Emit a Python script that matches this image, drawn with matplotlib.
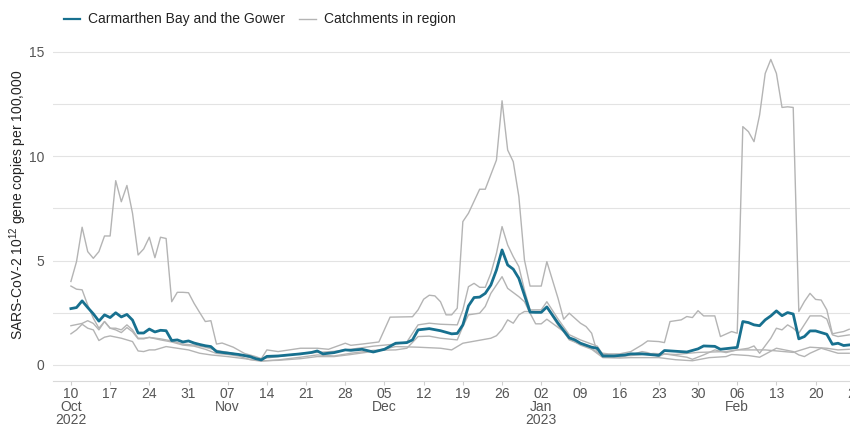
import matplotlib
matplotlib.use("Agg")
from matplotlib import pyplot as plt
from matplotlib.lines import Line2D
import pandas as pd

plt.rcParams['font.family'] = ['Liberation Sans', 'DejaVu Sans']
plt.rcParams['mathtext.fontset'] = 'custom'
plt.rcParams['mathtext.rm'] = 'Liberation Sans'

start = pd.Timestamp("2022-10-10")

# days after 10 Oct 2022 (10^12 gene copies per 100,000)
bay_days = [0, 1, 2, 3, 4, 5, 6, 7, 8, 9, 10, 11, 12, 13, 14, 15, 16, 17, 18, 19, 20, 21, 22, 23, 24, 25,
            26, 27, 28, 30, 32, 33, 34, 35, 37, 41, 43, 44, 45, 47, 49, 50, 52, 54, 56, 58, 60, 61, 62, 64,
            66, 68, 69, 70, 71, 72, 73, 74, 75, 76, 77, 78, 79, 80, 82, 83, 84, 85, 87, 89, 90, 91, 93, 94,
            95, 97, 99, 100, 102, 105, 106, 110, 112, 113, 115, 116, 119, 120, 121, 122, 123, 124, 125, 126,
            127, 128, 129, 130, 131, 132, 133, 135, 136, 137, 138, 139]
bay_vals = [2.70, 2.75, 3.07, 2.75, 2.45, 2.10, 2.40, 2.27, 2.50, 2.30, 2.42, 2.15, 1.53, 1.53, 1.72, 1.58,
            1.66, 1.64, 1.17, 1.20, 1.10, 1.15, 1.05, 0.98, 0.92, 0.88, 0.64, 0.60, 0.57, 0.50, 0.40, 0.30,
            0.24, 0.41, 0.43, 0.53, 0.60, 0.67, 0.53, 0.59, 0.72, 0.70, 0.75, 0.62, 0.75, 1.04, 1.07, 1.20,
            1.68, 1.74, 1.64, 1.49, 1.51, 1.92, 2.83, 3.23, 3.25, 3.43, 3.83, 4.55, 5.51, 4.79, 4.59, 4.15,
            2.53, 2.52, 2.52, 2.78, 2.00, 1.30, 1.20, 1.04, 0.85, 0.80, 0.43, 0.43, 0.48, 0.53, 0.53, 0.46,
            0.69, 0.62, 0.77, 0.91, 0.89, 0.75, 0.84, 2.08, 2.03, 1.92, 1.88, 2.16, 2.35, 2.59, 2.36, 2.51,
            2.44, 1.25, 1.36, 1.63, 1.63, 1.47, 0.99, 1.04, 0.93, 0.96]

a_days = [0, 1, 2, 3, 4, 5, 6, 7, 8, 9, 10, 11, 12, 13, 14, 15, 16, 17, 18, 19, 20, 21, 22, 23, 24, 25, 26,
          27, 29, 31, 33, 34, 35, 37, 41, 44, 46, 49, 50, 52, 55, 57, 61, 62, 63, 64, 65, 66, 67, 68, 69, 70,
          71, 73, 74, 76, 77, 78, 79, 80, 81, 82, 84, 85, 86, 87, 88, 89, 91, 92, 93, 94, 96, 98, 100, 102,
          103, 105, 106, 107, 109, 110, 111, 112, 113, 115, 116, 118, 119, 120, 121, 122, 123, 124, 125,
          126, 127, 128, 129, 130, 131, 132, 133, 134, 135, 136, 137, 138, 139]
a_vals = [4.0, 4.95, 6.6, 5.43, 5.11, 5.43, 6.18, 6.18, 8.83, 7.82, 8.6, 7.27, 5.27, 5.56, 6.12, 5.14, 6.12,
          6.06, 3.03, 3.48, 3.48, 3.46, 2.95, 2.51, 2.08, 2.12, 1.0, 1.05, 0.85, 0.55, 0.4, 0.3, 0.72, 0.64,
          0.8, 0.8, 0.75, 1.04, 0.94, 1.0, 1.1, 2.29, 2.31, 2.64, 3.15, 3.34, 3.31, 3.03, 2.4, 2.4, 2.72,
          6.87, 7.27, 8.42, 8.42, 9.82, 12.66, 10.3, 9.74, 8.07, 5.03, 3.78, 3.78, 4.95, 4.07, 3.19, 2.19,
          2.48, 2.0, 1.84, 1.52, 0.59, 0.53, 0.53, 0.64, 0.96, 1.15, 1.12, 1.07, 2.08, 2.16, 2.32, 2.27, 2.6,
          2.35, 2.35, 1.36, 1.6, 1.52, 11.42, 11.18, 10.7, 11.98, 13.97, 14.64, 13.97, 12.34, 12.37, 12.34,
          2.56, 3.04, 3.43, 3.14, 3.11, 2.64, 1.49, 1.55, 1.6, 1.71]

b_days = [0, 1, 2, 3, 4, 5, 6, 7, 8, 9, 10, 11, 12, 13, 14, 16, 18, 20, 22, 24, 26, 28, 30, 32, 34, 37, 41,
          44, 47, 50, 54, 58, 60, 62, 64, 66, 69, 70, 71, 72, 73, 74, 75, 76, 77, 78, 79, 80, 81, 82, 84, 85,
          87, 89, 91, 93, 94, 95, 98, 100, 104, 108, 112, 117, 119, 121, 122, 123, 125, 126, 127, 128, 129,
          130, 132, 134, 135, 136, 137, 139]
b_vals = [3.78, 3.63, 3.6, 2.87, 2.24, 1.76, 2.08, 1.76, 1.68, 1.55, 1.79, 1.59, 1.25, 1.25, 1.32, 1.25,
          1.15, 1.0, 0.95, 0.85, 0.7, 0.6, 0.5, 0.35, 0.3, 0.4, 0.55, 0.6, 0.65, 0.75, 0.9, 1.0, 1.1, 1.92,
          2.0, 1.95, 1.92, 2.64, 3.75, 3.91, 3.72, 3.72, 4.39, 5.35, 6.63, 5.75, 5.19, 4.71, 3.59, 2.64, 2.64,
          3.03, 2.2, 1.45, 1.2, 1.0, 0.9, 0.5, 0.45, 0.45, 0.55, 0.5, 0.6, 0.64, 0.72, 0.8, 0.91, 0.56, 1.28,
          1.76, 1.68, 1.92, 1.76, 1.52, 2.35, 2.35, 2.2, 1.44, 1.36, 1.44]

c_days = [0, 2, 3, 4, 5, 6, 7, 8, 9, 10, 11, 12, 13, 14, 16, 18, 20, 22, 24, 26, 28, 30, 32, 34, 37, 41, 44,
          47, 50, 54, 58, 60, 62, 64, 66, 69, 70, 71, 73, 74, 75, 77, 78, 80, 81, 82, 83, 84, 85, 88, 89, 91,
          93, 95, 98, 100, 102, 103, 105, 106, 110, 111, 113, 115, 117, 119, 120, 124, 129, 132, 135, 137, 139]
c_vals = [1.88, 1.99, 2.12, 1.99, 1.68, 2.08, 1.76, 1.76, 1.68, 1.92, 1.68, 1.28, 1.28, 1.32, 1.2, 1.1,
          0.95, 0.9, 0.75, 0.55, 0.5, 0.42, 0.25, 0.18, 0.24, 0.37, 0.48, 0.43, 0.56, 0.7, 0.72, 0.8, 1.36,
          1.38, 1.28, 1.2, 1.84, 2.4, 2.48, 2.8, 3.43, 4.23, 3.67, 3.27, 3.03, 2.48, 1.97, 1.97, 2.19, 1.6,
          1.2, 1.0, 0.8, 0.4, 0.37, 0.48, 0.64, 0.59, 0.4, 0.53, 0.37, 0.27, 0.48, 0.72, 0.59, 0.72, 0.72,
          0.72, 0.6, 0.85, 0.8, 0.72, 0.75]

d_days = [0, 1, 2, 3, 4, 5, 6, 7, 9, 11, 12, 13, 14, 15, 17, 19, 21, 23, 25, 28, 31, 34, 37, 41, 44, 47, 50,
          54, 58, 62, 66, 68, 70, 75, 76, 77, 78, 79, 80, 81, 84, 85, 87, 89, 91, 93, 95, 98, 100, 105, 108,
          111, 114, 117, 118, 121, 123, 126, 129, 130, 131, 132, 134, 135, 137, 139]
d_vals = [1.49, 1.68, 1.95, 1.76, 1.68, 1.17, 1.33, 1.39, 1.28, 1.12, 0.67, 0.64, 0.72, 0.72, 0.88, 0.8,
          0.72, 0.56, 0.48, 0.4, 0.3, 0.2, 0.22, 0.3, 0.4, 0.4, 0.5, 0.65, 0.88, 0.85, 0.8, 0.72, 1.04, 1.28,
          1.4, 1.7, 2.16, 2.0, 2.4, 2.56, 2.56, 2.75, 1.9, 1.25, 0.95, 0.75, 0.35, 0.33, 0.35, 0.35, 0.25,
          0.2, 0.35, 0.4, 0.5, 0.45, 0.37, 0.8, 0.64, 0.48, 0.4, 0.56, 0.8, 0.72, 0.56, 0.56]

tick_labels = ["10\nOct\n2022", "17", "24", "31", "07\nNov", "14", "21", "28", "05\nDec", "12", "19", "26",
               "02\nJan\n2023", "09", "16", "23", "30", "06\nFeb", "13", "20", "27"]

teal = "#17708f"
grey = "#b4b4b4"
text_col = "#555555"


def to_dates(days):
    return start + pd.to_timedelta(days, unit="D")


fig = plt.figure(figsize=(8.5, 4.26), dpi=100)
# axes run a little past the right edge of the figure, as in the original
ax = fig.add_axes([53 / 850, 45 / 426, (866 - 53) / 850, (381 - 41.5) / 426])

for days, vals in [(a_days, a_vals), (b_days, b_vals), (c_days, c_vals), (d_days, d_vals)]:
    ax.plot(to_dates(days), vals, color=grey, lw=1.0, zorder=2)
ax.plot(to_dates(bay_days), bay_vals, color=teal, lw=2.0, zorder=3)

ax.set_xlim(start - pd.Timedelta(days=3.2), start + pd.Timedelta(days=142))
ax.set_ylim(-0.77, 15.5)

ax.set_yticks([0, 5, 10, 15])
ax.set_yticks([2.5, 7.5, 12.5], minor=True)
ax.grid(axis="y", which="both", color="#e3e3e3", lw=0.8)
ax.set_axisbelow(True)
ax.tick_params(axis="y", which="both", length=0, pad=6, labelsize=10, labelcolor=text_col)

ax.set_xticks(to_dates([7 * i for i in range(len(tick_labels))]))
ax.set_xticklabels(tick_labels, linespacing=0.92)
ax.tick_params(axis="x", length=3, color="#d0d0d0", pad=1.5, labelsize=10, labelcolor=text_col)

for s in ["top", "right", "left"]:
    ax.spines[s].set_visible(False)
ax.spines["bottom"].set_color("#d9d9d9")

ax.set_ylabel(r"SARS-CoV-2 $10^{12}$ gene copies per 100,000", fontsize=10, color="#222222")
ax.yaxis.set_label_coords(-0.029, 0.52)

handles = [Line2D([], [], color=teal, lw=1.6), Line2D([], [], color=grey, lw=1.0)]
fig.legend(handles, ["Carmarthen Bay and the Gower", "Catchments in region"], loc="upper left",
           bbox_to_anchor=(0.06, 1.0), ncol=2, frameon=False, fontsize=10, handlelength=1.2,
           handletextpad=0.6, columnspacing=1.0, labelcolor="#222222")

fig.savefig("out.png", dpi=100)
